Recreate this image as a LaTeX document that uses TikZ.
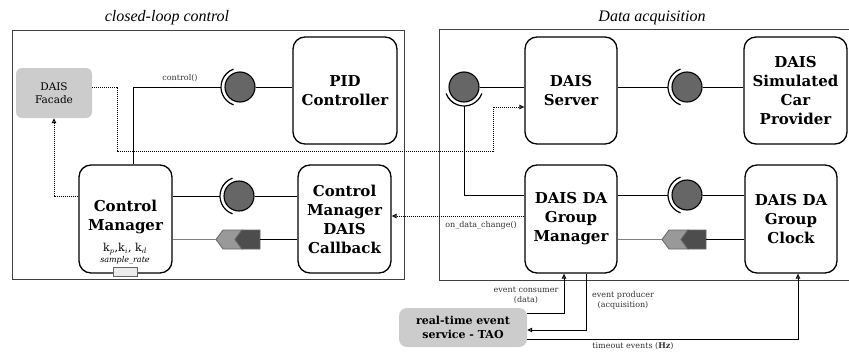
\documentclass[tikz,border=0pt]{standalone}
\usepackage{fontspec}
\setmainfont{DejaVu Serif}
\newfontfamily\titlefont{Liberation Serif}
\usepackage{tikz}
\usetikzlibrary{arrows.meta,positioning,calc}
\definecolor{boxGray}{HTML}{CCCCCC}
\definecolor{ballGray}{HTML}{666666}
\definecolor{chevLight}{HTML}{999999}
\definecolor{chevDark}{HTML}{4D4D4D}
\definecolor{labelGray}{HTML}{333333}

\begin{document}
\begin{tikzpicture}[x=1pt, y=-1pt,
  comp/.style={draw, line width=1.3pt, rounded corners=12pt, align=center, inner sep=0pt,
    font=\fontsize{15}{19}\selectfont\bfseries},
  ext/.style={fill=boxGray, rounded corners=6pt, align=center, inner sep=0pt},
  ball/.style={circle, draw, fill=ballGray, line width=1.1pt, minimum size=30pt, inner sep=0pt},
  sock/.style={line width=1.2pt},
  link/.style={line width=1pt},
  graylink/.style={line width=1.5pt, draw=black!50},
  dotlink/.style={line width=1pt, dash pattern=on 1pt off 1pt},
  opentip/.style={-{Triangle[open, length=5pt, width=4.5pt]}},
  lbl/.style={font=\fontsize{8}{10}\selectfont, text=labelGray, align=center, inner sep=0pt},
  grpframe/.style={line width=1pt, draw=black!75}]
\useasboundingbox (0,0) rectangle (849,351);
% ---------- groups ----------
\node[font=\titlefont\itshape\fontsize{16}{19}\selectfont] (ttlctl) at (167,18) {closed-loop control};
\node[font=\titlefont\itshape\fontsize{16}{19}\selectfont] (ttlacq) at (652,18) {Data acquisition};
\draw[grpframe] (12,30) rectangle (404,279);
\draw[grpframe] (851,29) -- (439,29) -- (439,280) -- (851,280);
% ---------- closed-loop control ----------
\node[ext, minimum width=76pt, minimum height=50pt, font=\fontsize{10.5}{13}\selectfont] (facade) at (54,93) {DAIS\\Facade};
\node[comp, minimum width=104pt, minimum height=107pt] (pid) at (345,90.5) {PID\\Controller};
\node[comp, minimum width=93pt, minimum height=108pt] (cm) at (125.5,219) {};
\node[font=\fontsize{15}{19}\selectfont\bfseries, align=center, inner sep=0pt] (cmtxt) at (125.5,216.5) {Control\\Manager};
\node[comp, minimum width=93pt, minimum height=108pt] (cb) at (344.5,219) {Control\\Manager\\DAIS\\Callback};
\node[font=\fontsize{11}{12}\selectfont, inner sep=0pt] (gains) at (125,249) {k$_p$,k$_i$, k$_d$};
\node[font=\fontsize{8}{10}\selectfont\itshape, inner sep=0pt] (rate) at (125,260) {sample\_rate};
\node[draw=black!60, fill=black!8, minimum width=24pt, minimum height=9pt, inner sep=0pt] (port) at (125,271.5) {};
% lollipops
\node[ball] (l1) at (240,87) {};
\node[ball] (l2) at (239,196) {};
\draw[sock] ($(l1)+(110:19)$) arc[start angle=110, end angle=250, radius=19];
\draw[sock] ($(l2)+(110:19)$) arc[start angle=110, end angle=250, radius=19];
\coordinate (s1) at ($(l1)+(-19,0)$);
\coordinate (s2) at ($(l2)+(-19,0)$);
% ---------- data acquisition ----------
\node[comp, minimum width=92pt, minimum height=107pt] (srv) at (571,90.5) {DAIS\\Server};
\node[comp, minimum width=103pt, minimum height=107pt] (car) at (795.5,90.5) {DAIS\\Simulated\\Car\\Provider};
\node[comp, minimum width=92pt, minimum height=108pt] (gm) at (571,219) {DAIS DA\\Group\\Manager};
\node[comp, minimum width=92pt, minimum height=108pt] (clk) at (791,219) {DAIS DA\\Group\\Clock};
\node[ext, rounded corners=8pt, minimum width=128pt, minimum height=39pt, font=\fontsize{11}{14}\selectfont\bfseries] (tao) at (463,327.5) {real-time event\\service - TAO};
\node[ball] (l3) at (464,87) {};
\node[ball] (l4) at (687,87) {};
\node[ball] (l5) at (687,195) {};
\draw[sock] ($(l3)+(20:19)$) arc[start angle=20, end angle=160, radius=19];
\draw[sock] ($(l4)+(110:19)$) arc[start angle=110, end angle=250, radius=19];
\draw[sock] ($(l5)+(110:19)$) arc[start angle=110, end angle=250, radius=19];
\coordinate (s3) at ($(l3)+(0,19)$);
\coordinate (s4) at ($(l4)+(-19,0)$);
\coordinate (s5) at ($(l5)+(-19,0)$);
% event ports
\foreach \n/\x in {e1/216, e2/662} {
  \coordinate (\n) at (\x,239.5);
  \coordinate (\n-end) at (\x+44,239.5);
  \filldraw[fill=chevLight, draw=black!60, line width=0.8pt] (\n) -- ++(7,-9.5) -- ++(19,0) -- ++(-7,9.5) -- ++(7,9.5) -- ++(-19,0) -- cycle;
  \filldraw[fill=chevDark, draw=black!60, line width=0.8pt] ($(\n)+(26,-9.5)$) -- ++(18,0) -- ++(0,19) -- ++(-18,0) -- ++(-7,-9.5) -- cycle;
}
% ---------- connectors ----------
\draw[link] (l1.east) -- (l1.east -| pid.west);
\draw[link] (s1) -| ($(cm.north)+(7.5,0)$);
\node[lbl, anchor=south] (lctl) at (180,82) {control()};
\draw[link] (cm.east |- s2) -- (s2);
\draw[link] (l2.east) -- (l2.east -| cb.west);
\draw[graylink] (cm.east |- e1) -- (e1);
\draw[link] (e1-end) -- (e1-end -| cb.west);
\draw[link] (l3.east) -- (l3.east -| srv.west);
\draw[link] (s3) |- (gm.west |- l5);
\draw[link] (srv.east |- s4) -- (s4);
\draw[link] (l4.east) -- (l4.east -| car.west);
\draw[link] (gm.east |- s5) -- (s5);
\draw[link] (l5.east) -- (l5.east -| clk.west);
\draw[graylink] (gm.east |- e2) -- (e2);
\draw[link] (e2-end) -- (e2-end -| clk.west);
\draw[dotlink, opentip] (facade.east |- l1) -| (117,151) -| (493,107) -- (srv.west |- 0,107);
\draw[dotlink, opentip] (cm.west |- l2) -| (facade.south);
\draw[dotlink, opentip] (gm.west |- 0,216) -- (cb.east |- 0,216);
\node[lbl, anchor=north east] (lodc) at (517,221) {on\_data\_change()};
\draw[link, opentip] (tao.east |- 0,313) -| ($(gm.south)+(-7,0)$);
\draw[link, opentip] ($(gm.south)+(15,0)$) |- (tao.east |- 0,330);
\draw[link, opentip] (tao.east |- 0,339) -| ($(clk.south)+(7,0)$);
\node[lbl] (lcons) at (526,295) {event consumer\\(data)};
\node[lbl] (lprod) at (623,300) {event producer\\(acquisition)};
\node[lbl] (ltime) at (633,346) {timeout events (\textbf{Hz})};
\end{tikzpicture}
\end{document}
